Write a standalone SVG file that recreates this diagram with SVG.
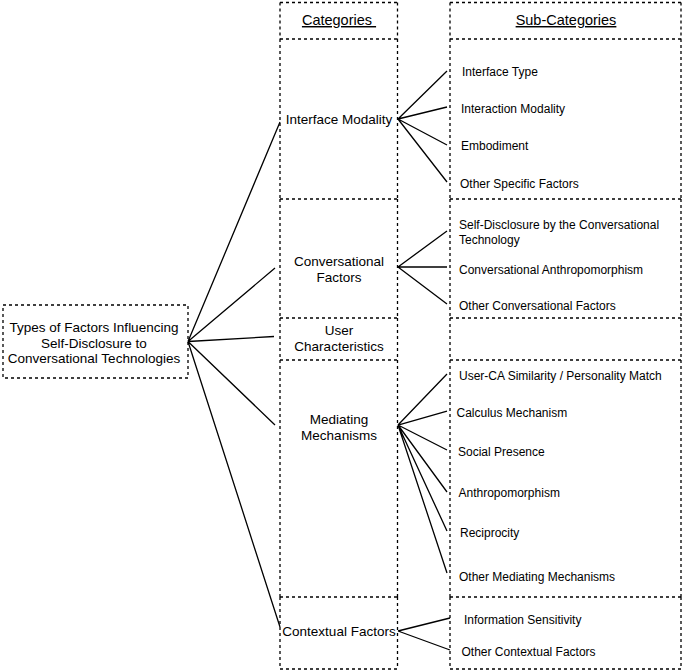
<svg xmlns="http://www.w3.org/2000/svg" width="685" height="672" viewBox="0 0 685 672">
<style>
.box{fill:none;stroke:#000;stroke-width:1.3;stroke-dasharray:3 3}
.ln{stroke:#000;stroke-width:1.3;fill:none}
.t{font-family:"Liberation Sans",Arial,Helvetica,sans-serif;font-size:13.5px;fill:#000;text-anchor:middle}
.h{font-family:"Liberation Sans",Arial,Helvetica,sans-serif;font-size:14.5px;fill:#000;text-anchor:middle;text-decoration:underline}
.s{font-family:"Liberation Sans",Arial,Helvetica,sans-serif;font-size:12px;fill:#000}
</style>
<rect width="685" height="672" fill="#fff"/>
<g id="connectors">
<path class="ln" d="M188,341.5 L280,122 M188,341.5 L275,268 M188,341.5 L274,336.5 M188,341.5 L275,425 M188,341.5 L280,627"/>
<path class="ln" d="M398,119 L447,71 M398,119 L447,107 M398,119 L447,145 M398,119 L447,182"/>
<path class="ln" d="M398,267 L447,231 M398,267 L447,267 M398,267 L447,304"/>
<path class="ln" d="M398,425 L447,374 M398,425 L447,411 M398,425 L447,450 M398,425 L447,492 M398,425 L447,531 M398,425 L447,573"/>
<path class="ln" d="M398,631 L450,618 M398,631 L450,650"/>
</g>
<g id="root">
<rect class="box" x="3" y="305" width="185" height="73"/>
<text class="t" x="94" y="332">Types of Factors Influencing</text>
<text class="t" x="94" y="347.5">Self-Disclosure to</text>
<text class="t" x="94" y="363">Conversational Technologies</text>
</g>
<g id="cat-header">
<path class="box" d="M280,2.5 H397.5 M280,2.5 V39 M397.5,2.5 V39"/>
<text class="h" x="339" y="25" xml:space="preserve">Categories </text>
</g>
<g id="sub-header">
<path class="box" d="M450,2.5 H681 M450,2.5 V39 M681,2.5 V39"/>
<text class="h" x="566" y="25">Sub-Categories</text>
</g>
<g id="cat-interface">
<path class="box" d="M280,39 H397.5 M280,39 V199 M397.5,39 V199"/>
<text class="t" x="339" y="124">Interface Modality</text>
</g>
<g id="sub-interface">
<path class="box" d="M450,39 H681 M450,39 V199 M681,39 V199"/>
<text class="s" x="462" y="76">Interface Type</text>
<text class="s" x="461" y="113">Interaction Modality</text>
<text class="s" x="461" y="150">Embodiment</text>
<text class="s" x="460" y="187.5">Other Specific Factors</text>
</g>
<g id="cat-conversational">
<path class="box" d="M280,199 H397.5 M280,199 V318 M397.5,199 V318"/>
<text class="t" x="339" y="265.5">Conversational</text>
<text class="t" x="339" y="281.5">Factors</text>
</g>
<g id="sub-conversational">
<path class="box" d="M450,199 H681 M450,199 V318 M681,199 V318"/>
<text class="s" x="459" y="228.5">Self-Disclosure by the Conversational</text>
<text class="s" x="459" y="244">Technology</text>
<text class="s" x="459" y="273.5">Conversational Anthropomorphism</text>
<text class="s" x="459" y="310">Other Conversational Factors</text>
</g>
<g id="cat-user">
<path class="box" d="M280,318 H397.5 M280,318 V360 M397.5,318 V360"/>
<text class="t" x="339" y="335">User</text>
<text class="t" x="339" y="350.5">Characteristics</text>
</g>
<g id="sub-user">
<path class="box" d="M450,318 H681 M450,318 V360 M681,318 V360"/>
</g>
<g id="cat-mediating">
<path class="box" d="M280,360 H397.5 M280,360 V597 M397.5,360 V597"/>
<text class="t" x="339" y="424">Mediating</text>
<text class="t" x="339" y="440">Mechanisms</text>
</g>
<g id="sub-mediating">
<path class="box" d="M450,360 H681 M450,360 V597 M681,360 V597"/>
<text class="s" x="459" y="379.5">User-CA Similarity / Personality Match</text>
<text class="s" x="456.5" y="416.5">Calculus Mechanism</text>
<text class="s" x="458" y="456">Social Presence</text>
<text class="s" x="458.5" y="497">Anthropomorphism</text>
<text class="s" x="460" y="537">Reciprocity</text>
<text class="s" x="459" y="580.5">Other Mediating Mechanisms</text>
</g>
<g id="cat-contextual">
<path class="box" d="M280,597 H397.5 M280,597 V669 M397.5,597 V669 M280,669 H397.5"/>
<text class="t" x="339" y="635.5">Contextual Factors</text>
</g>
<g id="sub-contextual">
<path class="box" d="M450,597 H681 M450,597 V669 M681,597 V669 M450,669 H681"/>
<text class="s" x="464" y="623.5">Information Sensitivity</text>
<text class="s" x="461.5" y="656">Other Contextual Factors</text>
</g>
</svg>
